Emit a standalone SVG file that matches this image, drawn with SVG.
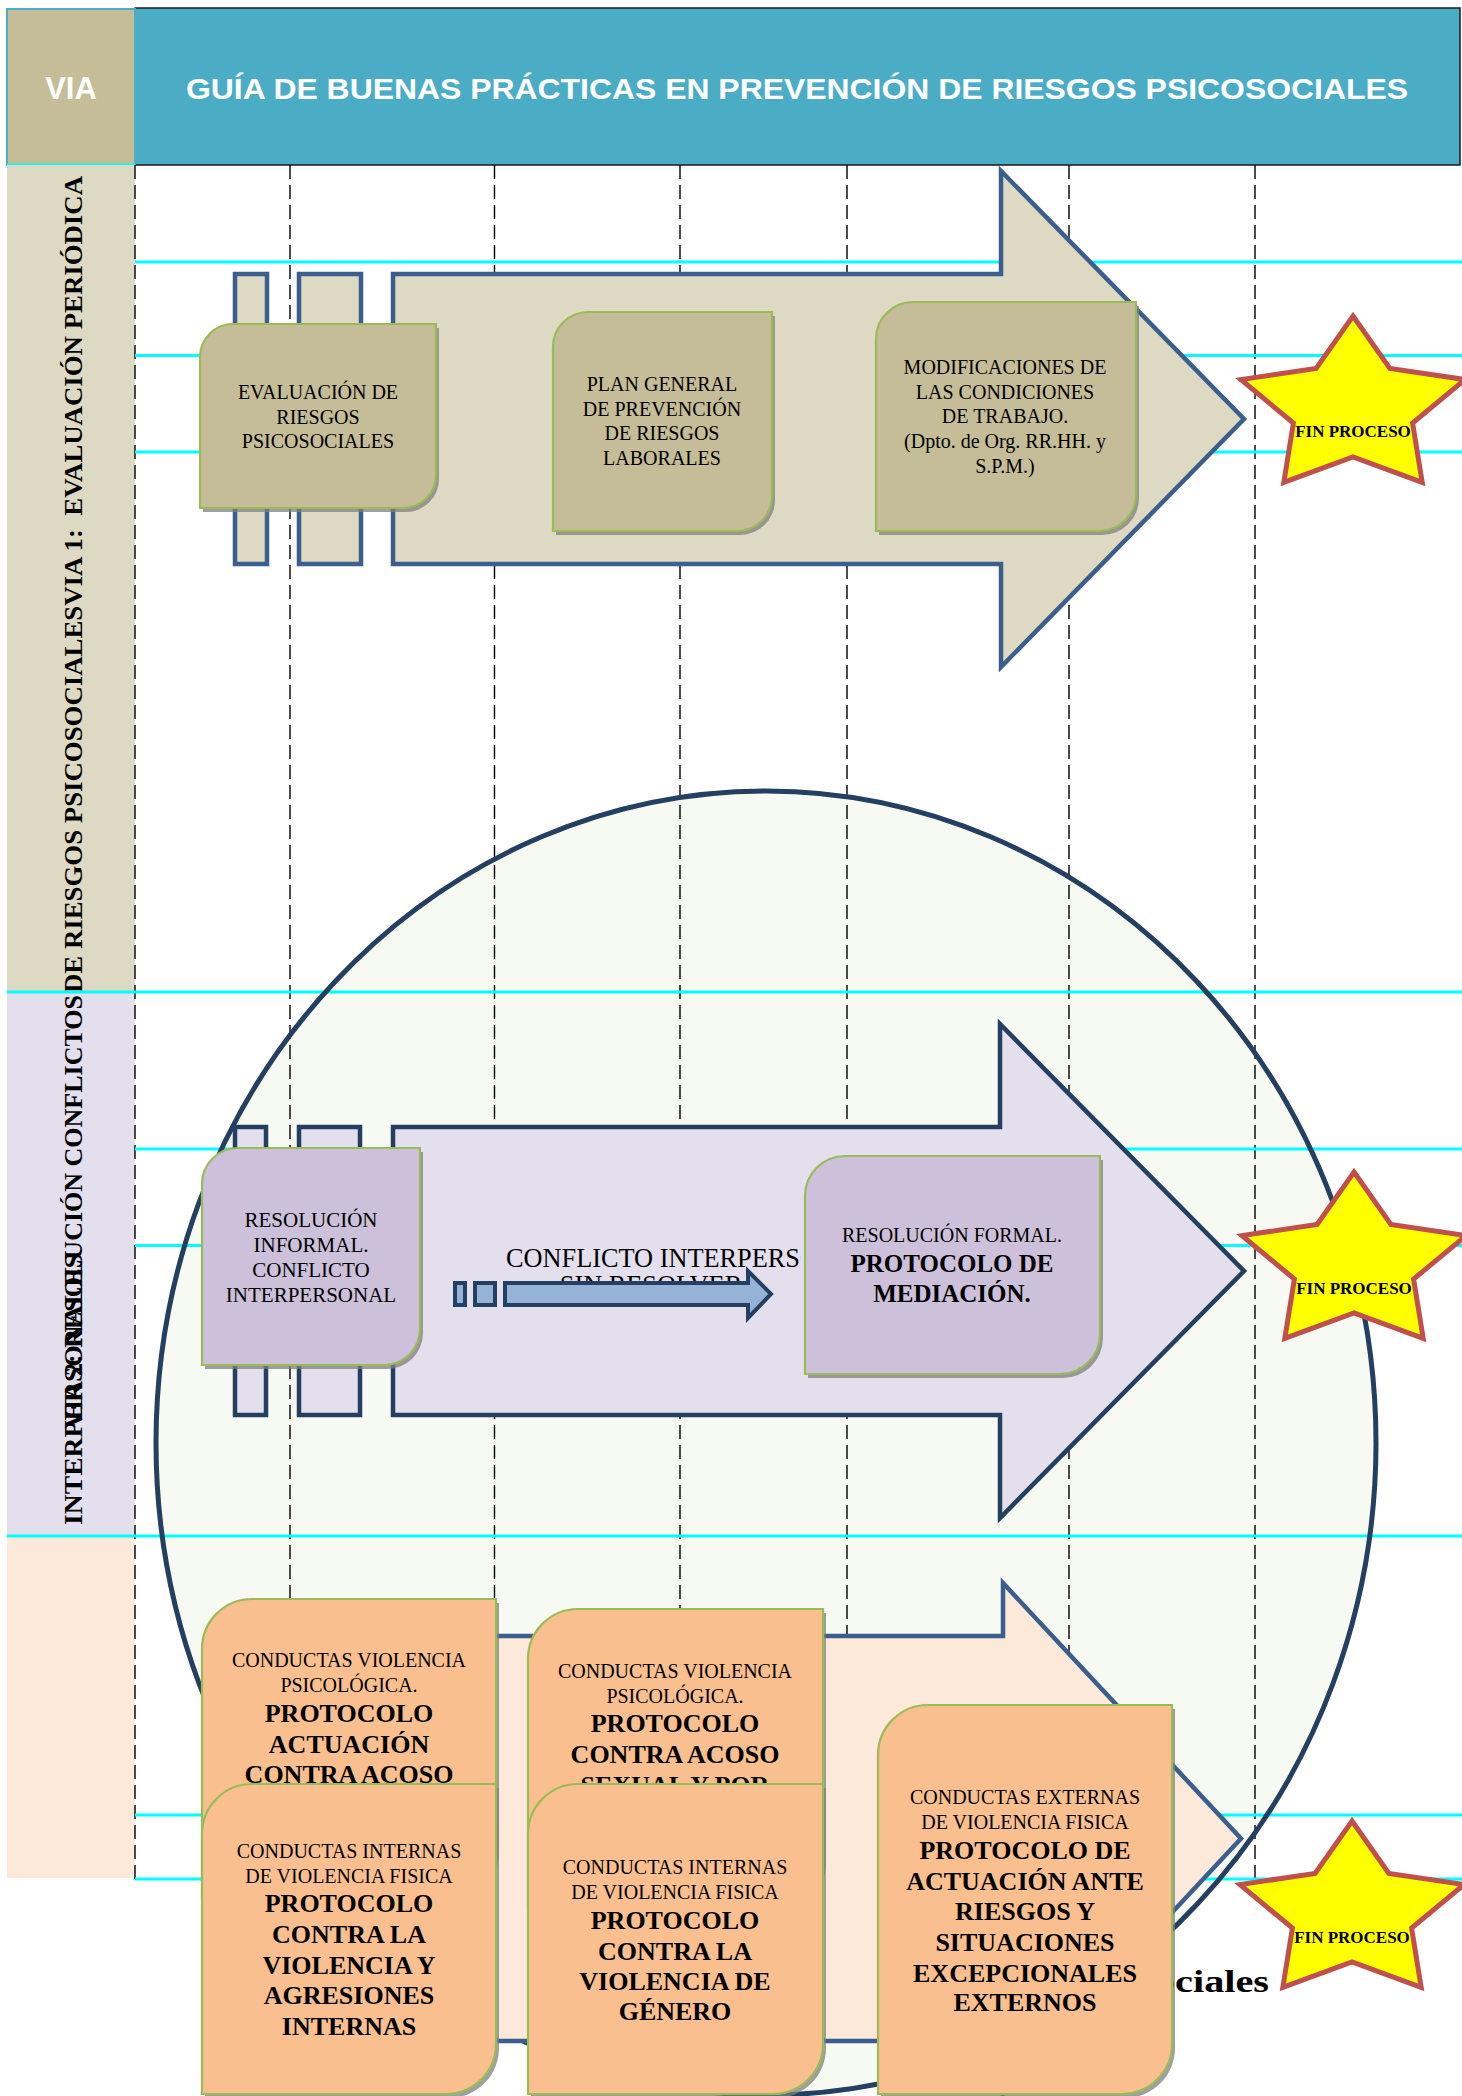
<svg xmlns="http://www.w3.org/2000/svg" width="1462" height="2096" viewBox="0 0 1462 2096">
<style>
.cy{stroke:#00FFFF;stroke-width:3;fill:none}
.dash{stroke:#000;stroke-width:1.4;stroke-dasharray:14 6;fill:none}
.sh{fill:#7F7F7F;opacity:.75}
.bx{stroke:#9BBB59;stroke-width:2.2}
.tan{fill:#C4BD97}
.lav{fill:#CCC0DA}
.pch{fill:#F9BF8F}
.t{font-family:"Liberation Serif","Times New Roman",serif;fill:#000;text-anchor:middle}
.r20{font-size:20px}
.r21{font-size:21px}
.b26{font-size:26px;font-weight:bold}
.b25{font-size:25px;font-weight:bold}
.side{font-family:"Liberation Serif","Times New Roman",serif;font-size:26px;font-weight:bold;fill:#000}
.star{fill:#FFFF00;stroke:#C0504D;stroke-width:5;stroke-linejoin:miter}
.fin{font-family:"Liberation Serif","Times New Roman",serif;font-size:17px;font-weight:bold;text-anchor:middle;fill:#000}
</style>
<defs>
<path id="starShape" d="M0,-92 L36.9,-39.6 L112,-28.4 L59.6,15.1 L69.2,74.4 L0,49 L-69.2,74.4 L-59.6,15.1 L-112,-28.4 L-36.9,-39.6 Z"/>
<clipPath id="conflClip"><rect x="500" y="1230" width="300.5" height="53"/></clipPath>
</defs>
<rect x="0" y="0" width="1462" height="2096" fill="#FFFFFF"/>

<!-- header -->
<g id="header">
<rect x="135" y="8" width="1325" height="157" fill="#4BACC6" stroke="#1A1A1A" stroke-width="1.5"/>
<rect x="7" y="9" width="128" height="156" fill="#C4BD97" stroke="#4BACC6" stroke-width="2"/>
<line x1="7" y1="165" x2="135" y2="165" stroke="#00FFFF" stroke-width="3"/>
<text x="71" y="99" font-family="'Liberation Sans',Arial,sans-serif" font-size="31" font-weight="bold" fill="#FFFFFF" text-anchor="middle">VIA</text>
<text x="797" y="99" font-family="'Liberation Sans',Arial,sans-serif" font-size="30" font-weight="bold" fill="#FFFFFF" text-anchor="middle" textLength="1222" lengthAdjust="spacingAndGlyphs">GUÍA DE BUENAS PRÁCTICAS EN PREVENCIÓN DE RIESGOS PSICOSOCIALES</text>
</g>

<!-- lane label column -->
<g id="lane-labels">
<rect x="7" y="165" width="128" height="827" fill="#DDD9C3"/>
<rect x="7" y="992" width="128" height="544" fill="#E4DFEC"/>
<rect x="7" y="1536" width="128" height="342" fill="#FDE9D9"/>
<text class="side" transform="translate(82,993) rotate(-90)" textLength="817" lengthAdjust="spacingAndGlyphs">DE RIESGOS PSICOSOCIALESVIA 1: &#160;EVALUACIÓN PERIÓDICA</text>
<text class="side" transform="translate(82,995) rotate(-90)" text-anchor="end">VIA 2: RESOLUCIÓN CONFLICTOS</text>
<text class="side" transform="translate(82,1525) rotate(-90)" textLength="272" lengthAdjust="spacingAndGlyphs">INTERPERSONALES</text>
</g>

<!-- big circle fill -->
<ellipse cx="766" cy="1443" rx="610" ry="652" fill="#F6FAF3"/>

<!-- grid -->
<g id="grid">
<line class="dash" x1="135" y1="165" x2="135" y2="1880"/>
<line class="dash" x1="290" y1="165" x2="290" y2="1880"/>
<line class="dash" x1="494.5" y1="165" x2="494.5" y2="1880"/>
<line class="dash" x1="680" y1="165" x2="680" y2="1880"/>
<line class="dash" x1="847" y1="165" x2="847" y2="1880"/>
<line class="dash" x1="1069" y1="165" x2="1069" y2="1880"/>
<line class="dash" x1="1255" y1="165" x2="1255" y2="1880"/>
<line class="cy" x1="135" y1="262" x2="1462" y2="262"/>
<line class="cy" x1="135" y1="355.5" x2="1462" y2="355.5"/>
<line class="cy" x1="135" y1="452" x2="1462" y2="452"/>
<line class="cy" x1="7" y1="992" x2="1462" y2="992"/>
<line class="cy" x1="135" y1="1149" x2="1462" y2="1149"/>
<line class="cy" x1="135" y1="1245.5" x2="1462" y2="1245.5"/>
<line class="cy" x1="7" y1="1536" x2="1462" y2="1536"/>
<line class="cy" x1="135" y1="1815" x2="1462" y2="1815"/>
<line class="cy" x1="135" y1="1879" x2="1462" y2="1879"/>
</g>

<ellipse cx="766" cy="1443" rx="610" ry="652" fill="none" stroke="#243F60" stroke-width="5"/>

<!-- lane arrows -->
<g id="arrow-via1" fill="#DDD9C3" stroke="#3B5E8C" stroke-width="4.5">
<rect x="235" y="274" width="32" height="290"/>
<rect x="299" y="274" width="62" height="290"/>
<path d="M393,274 H1001 V171 L1244,419 L1001,667 V564 H393 Z"/>
</g>
<g id="arrow-via2" fill="#E4DFEC" stroke="#243F60" stroke-width="4.5">
<rect x="235" y="1127" width="31" height="288"/>
<rect x="299" y="1127" width="61" height="288"/>
<path d="M393,1127 H1000 V1024 L1244,1271 L1000,1518 V1415 H393 Z"/>
</g>
<g id="arrow-via3" fill="#FDE9D9" stroke="#3B5E8C" stroke-width="4.5">
<rect x="235" y="1636" width="32" height="405"/>
<rect x="299" y="1636" width="62" height="405"/>
<path d="M393,1636 H1003 V1583 L1241,1838.5 L1003,2094 V2041 H393 Z"/>
</g>

<!-- lane 1 nodes -->
<g id="n-evaluacion">
<path class="sh" transform="translate(3,4)" d="M233,324 H436 V475 A33,33 0 0 1 403,508 H200 V357 A33,33 0 0 1 233,324 Z"/>
<path class="bx tan" d="M233,324 H436 V475 A33,33 0 0 1 403,508 H200 V357 A33,33 0 0 1 233,324 Z"/>
<text class="t r20"><tspan x="318" y="399">EVALUACIÓN DE</tspan><tspan x="318" y="424">RIESGOS</tspan><tspan x="318" y="448">PSICOSOCIALES</tspan></text>
</g>
<g id="n-plan">
<path class="sh" transform="translate(3,4)" d="M588,312 H772 V496 A35,35 0 0 1 737,531 H553 V347 A35,35 0 0 1 588,312 Z"/>
<path class="bx tan" d="M588,312 H772 V496 A35,35 0 0 1 737,531 H553 V347 A35,35 0 0 1 588,312 Z"/>
<text class="t r20"><tspan x="662" y="391">PLAN GENERAL</tspan><tspan x="662" y="416">DE PREVENCIÓN</tspan><tspan x="662" y="440">DE RIESGOS</tspan><tspan x="662" y="465">LABORALES</tspan></text>
</g>
<g id="n-modificaciones">
<path class="sh" transform="translate(3,4)" d="M913,302 H1136 V494 A37,37 0 0 1 1099,531 H876 V339 A37,37 0 0 1 913,302 Z"/>
<path class="bx tan" d="M913,302 H1136 V494 A37,37 0 0 1 1099,531 H876 V339 A37,37 0 0 1 913,302 Z"/>
<text class="t r20"><tspan x="1005" y="374">MODIFICACIONES DE</tspan><tspan x="1005" y="399">LAS CONDICIONES</tspan><tspan x="1005" y="423">DE TRABAJO.</tspan><tspan x="1005" y="448">(Dpto. de Org. RR.HH. y</tspan><tspan x="1005" y="473">S.P.M.)</tspan></text>
</g>
<g id="n-fin1">
<use href="#starShape" class="star" transform="translate(1353,408)"/>
<text class="fin" x="1353" y="437">FIN PROCESO</text>
</g>

<!-- lane 2 nodes -->
<g id="n-informal">
<path class="sh" transform="translate(3,4)" d="M238,1148 H420 V1329 A36,36 0 0 1 384,1365 H202 V1184 A36,36 0 0 1 238,1148 Z"/>
<path class="bx lav" d="M238,1148 H420 V1329 A36,36 0 0 1 384,1365 H202 V1184 A36,36 0 0 1 238,1148 Z"/>
<text class="t r21"><tspan x="311" y="1227">RESOLUCIÓN</tspan><tspan x="311" y="1252">INFORMAL.</tspan><tspan x="311" y="1277">CONFLICTO</tspan><tspan x="311" y="1302">INTERPERSONAL</tspan></text>
</g>
<g id="n-conflicto-label" clip-path="url(#conflClip)">
<text class="t" font-size="26.3" x="506" y="1267" style="text-anchor:start">CONFLICTO INTERPERSONAL</text>
<text class="t" font-size="26.3" x="651" y="1294">SIN RESOLVER</text>
</g>
<g id="connectors" fill="#95B3D7" stroke="#243F60" stroke-width="4">
<rect x="455" y="1283" width="10" height="22"/>
<rect x="475" y="1283" width="20" height="22"/>
<path d="M505,1283 H748 V1271 L771,1294 L748,1318 V1305 H505 Z"/>
</g>
<g id="n-formal">
<path class="sh" transform="translate(3,4)" d="M845,1156 H1100 V1334 A40,40 0 0 1 1060,1374 H805 V1196 A40,40 0 0 1 845,1156 Z"/>
<path class="bx lav" d="M845,1156 H1100 V1334 A40,40 0 0 1 1060,1374 H805 V1196 A40,40 0 0 1 845,1156 Z"/>
<text class="t"><tspan class="r20" x="952" y="1242">RESOLUCIÓN FORMAL.</tspan><tspan class="b25" x="952" y="1272">PROTOCOLO DE</tspan><tspan class="b25" x="952" y="1302">MEDIACIÓN.</tspan></text>
</g>
<g id="n-fin2">
<use href="#starShape" class="star" transform="translate(1354,1264)"/>
<text class="fin" x="1354" y="1294">FIN PROCESO</text>
</g>

<!-- lane 3 nodes -->
<text x="1269" y="1992" font-family="'Liberation Serif','Times New Roman',serif" font-size="32" font-weight="bold" text-anchor="end" textLength="114" lengthAdjust="spacingAndGlyphs">ociales</text>
<g id="n-acoso-laboral">
<path class="sh" transform="translate(3,4)" d="M252,1599 H496 V1849 A50,50 0 0 1 446,1899 H202 V1649 A50,50 0 0 1 252,1599 Z"/>
<path class="bx pch" d="M252,1599 H496 V1849 A50,50 0 0 1 446,1899 H202 V1649 A50,50 0 0 1 252,1599 Z"/>
<text class="t"><tspan class="r20" x="349" y="1667">CONDUCTAS VIOLENCIA</tspan><tspan class="r20" x="349" y="1692">PSICOLÓGICA.</tspan><tspan class="b26" x="349" y="1722">PROTOCOLO</tspan><tspan class="b26" x="349" y="1753">ACTUACIÓN</tspan><tspan class="b26" x="349" y="1783">CONTRA ACOSO</tspan></text>
</g>
<g id="n-acoso-sexual">
<path class="sh" transform="translate(3,4)" d="M578,1609 H823 V1859 A50,50 0 0 1 773,1909 H528 V1659 A50,50 0 0 1 578,1609 Z"/>
<path class="bx pch" d="M578,1609 H823 V1859 A50,50 0 0 1 773,1909 H528 V1659 A50,50 0 0 1 578,1609 Z"/>
<text class="t"><tspan class="r20" x="675" y="1678">CONDUCTAS VIOLENCIA</tspan><tspan class="r20" x="675" y="1703">PSICOLÓGICA.</tspan><tspan class="b26" x="675" y="1732">PROTOCOLO</tspan><tspan class="b26" x="675" y="1763">CONTRA ACOSO</tspan><tspan class="b26" x="675" y="1794">SEXUAL Y POR</tspan></text>
</g>
<g id="n-violencia-interna">
<path class="sh" transform="translate(3,4)" d="M252,1784 H496 V2044 A50,50 0 0 1 446,2094 H202 V1834 A50,50 0 0 1 252,1784 Z"/>
<path class="bx pch" d="M252,1784 H496 V2044 A50,50 0 0 1 446,2094 H202 V1834 A50,50 0 0 1 252,1784 Z"/>
<text class="t"><tspan class="r20" x="349" y="1858">CONDUCTAS INTERNAS</tspan><tspan class="r20" x="349" y="1883">DE VIOLENCIA FISICA</tspan><tspan class="b26" x="349" y="1912">PROTOCOLO</tspan><tspan class="b26" x="349" y="1943">CONTRA LA</tspan><tspan class="b26" x="349" y="1974">VIOLENCIA Y</tspan><tspan class="b26" x="349" y="2004">AGRESIONES</tspan><tspan class="b26" x="349" y="2035">INTERNAS</tspan></text>
</g>
<g id="n-violencia-genero">
<path class="sh" transform="translate(3,4)" d="M578,1784 H823 V2044 A50,50 0 0 1 773,2094 H528 V1834 A50,50 0 0 1 578,1784 Z"/>
<path class="bx pch" d="M578,1784 H823 V2044 A50,50 0 0 1 773,2094 H528 V1834 A50,50 0 0 1 578,1784 Z"/>
<text class="t"><tspan class="r20" x="675" y="1874">CONDUCTAS INTERNAS</tspan><tspan class="r20" x="675" y="1899">DE VIOLENCIA FISICA</tspan><tspan class="b26" x="675" y="1929">PROTOCOLO</tspan><tspan class="b26" x="675" y="1960">CONTRA LA</tspan><tspan class="b26" x="675" y="1990">VIOLENCIA DE</tspan><tspan class="b26" x="675" y="2020">GÉNERO</tspan></text>
</g>
<g id="n-externas">
<path class="sh" transform="translate(3,4)" d="M928,1705 H1172 V2044 A50,50 0 0 1 1122,2094 H878 V1755 A50,50 0 0 1 928,1705 Z"/>
<path class="bx pch" d="M928,1705 H1172 V2044 A50,50 0 0 1 1122,2094 H878 V1755 A50,50 0 0 1 928,1705 Z"/>
<text class="t"><tspan class="r20" x="1025" y="1804">CONDUCTAS EXTERNAS</tspan><tspan class="r20" x="1025" y="1829">DE VIOLENCIA FISICA</tspan><tspan class="b26" x="1025" y="1859">PROTOCOLO DE</tspan><tspan class="b26" x="1025" y="1890">ACTUACIÓN ANTE</tspan><tspan class="b26" x="1025" y="1920">RIESGOS Y</tspan><tspan class="b26" x="1025" y="1951">SITUACIONES</tspan><tspan class="b26" x="1025" y="1982">EXCEPCIONALES</tspan><tspan class="b26" x="1025" y="2011">EXTERNOS</tspan></text>
</g>
<g id="n-fin3">
<use href="#starShape" class="star" transform="translate(1352,1913)"/>
<text class="fin" x="1352" y="1943">FIN PROCESO</text>
</g>
</svg>
